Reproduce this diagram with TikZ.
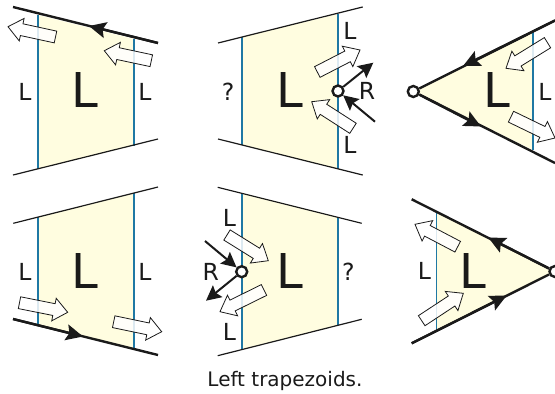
\documentclass[tikz,border=0pt]{standalone}
\usepackage{fontspec}
\setmainfont{DejaVu Sans}
\usetikzlibrary{arrows.meta,calc}
\definecolor{paneyellow}{HTML}{FFFDE0}
\definecolor{edgeblue}{HTML}{1F78A4}
\definecolor{inkk}{HTML}{1A1A1A}
\tikzset{
  pane/.style={fill=paneyellow,draw=none},
  edgeline/.style={draw=edgeblue,line width=1.25pt},
  thinline/.style={draw=inkk,line width=1.2pt},
  thickline/.style={draw=inkk,line width=2.4pt},
  midhead/.style={-{Stealth[length=17pt,width=16pt,inset=3pt]}},
  bighead2/.style={draw=inkk,line width=2pt,-{Stealth[length=15pt,width=15pt,inset=2.5pt]}},
  vertexdot/.style={circle,draw=inkk,fill=white,line width=2.4pt,minimum size=11pt,inner sep=0pt},
  smalltxt/.style={font=\fontsize{23.5}{24}\selectfont,text=inkk,inner sep=0pt},
  bigtxt/.style={font=\fontsize{48}{48}\selectfont,text=inkk,inner sep=0pt},
  captiontxt/.style={font=\fontsize{20}{22}\selectfont,text=inkk,inner sep=0pt},
  blockshape/.style={draw=inkk,line width=0.8pt,fill=white,fill opacity=0.85,line join=miter}
}
\newcommand\blk[3]{%
  \coordinate (#1a) at (#2);
  \coordinate (#1b) at (#3);
  \coordinate (#1h) at ($(#1b)!14pt!(#1a)$);
  \draw[blockshape] ($(#1a)!6pt!90:(#1b)$) -- ($(#1h)!6pt!-90:(#1a)$) -- ($(#1h)!11.5pt!-90:(#1a)$) -- (#1b)
    -- ($(#1h)!11.5pt!90:(#1a)$) -- ($(#1h)!6pt!90:(#1a)$) -- ($(#1a)!6pt!-90:(#1b)$) -- cycle;
}
\begin{document}
\begin{tikzpicture}[x=1pt,y=-1pt]
\useasboundingbox (0,0) rectangle (555,394);
% panel 1
\fill[pane] (38,15) -- (134,39) -- (134,145.5) -- (38,169) -- cycle;
\coordinate (p1a) at (13,7); \coordinate (p1m) at (89,26); \coordinate (p1b) at (158,43);
\coordinate (p1c) at (13,175); \coordinate (p1d) at (158,139);
\draw[edgeline] (38,15) -- (38,169);
\draw[edgeline] (134,39) -- (134,145.5);
\draw[thickline] (p1a) -- (p1b);
\draw[thickline,midhead] (p1b) -- (p1m);
\draw[thinline] (p1c) -- (p1d);
\node[smalltxt] (t1a) at (25,92) {L};
\node[smalltxt] (t1b) at (145,92) {L};
\node[bigtxt] (t1c) at (85,90.5) {L};
\blk{k1}{55.5,37}{8,26.7}
\blk{k2}{151.3,60.7}{104.3,50.7}
% panel 2
\fill[pane] (242,37) -- (338,14) -- (338,169) -- (242,145) -- cycle;
\coordinate (p2a) at (218,43); \coordinate (p2b) at (362.7,7);
\coordinate (p2c) at (218,139); \coordinate (p2d) at (362.7,175);
\draw[edgeline] (242,37) -- (242,145);
\draw[edgeline] (338,14) -- (338,169);
\draw[thinline] (p2a) -- (p2b);
\draw[thinline] (p2c) -- (p2d);
\node[smalltxt] (t2a) at (350,31) {L};
\node[smalltxt] (t2b) at (350,145) {L};
\node[smalltxt] (t2c) at (367,91) {R};
\node[smalltxt] (t2d) at (228,92) {?};
\node[bigtxt] (t2e) at (290,90.5) {L};
\blk{k3}{317.3,72}{360,50}
\blk{k4}{353,128.3}{311.7,101.7}
\node[vertexdot] (v2) at (338,91) {};
\coordinate (o2) at (373.3,62.7); \coordinate (i2) at (375,121.7);
\draw[bighead2] (v2) -- (o2);
\draw[bighead2] (i2) -- (v2);
% panel 3
\fill[pane] (413.3,91.5) -- (533,32) -- (533,150) -- cycle;
\node[vertexdot] (v3) at (413.3,91.5) {};
\coordinate (p3a) at (555,20.5); \coordinate (p3m) at (463,66); \coordinate (p3b) at (555,163); \coordinate (p3n) at (481,126.5);
\draw[edgeline] (533,32) -- (533,150);
\draw[thickline] (v3) -- (p3a);
\draw[thickline,midhead] (p3a) -- (p3m);
\draw[thickline] (v3) -- (p3b);
\draw[thickline,midhead] (v3) -- (p3n);
\node[smalltxt] (t3a) at (545,92) {L};
\node[bigtxt] (t3b) at (497,90.5) {L};
\blk{k5}{547.5,42.7}{506,68.3}
\blk{k6}{511,116.7}{555,138}
% panel 4
\fill[pane] (38,217) -- (134,193) -- (134,349) -- (38,325) -- cycle;
\coordinate (p4a) at (13.3,223.3); \coordinate (p4b) at (158,187);
\coordinate (p4c) at (13,319); \coordinate (p4m) at (83,336.5); \coordinate (p4d) at (158,355);
\draw[edgeline] (38,217) -- (38,325);
\draw[edgeline] (134,193) -- (134,349);
\draw[thinline] (p4a) -- (p4b);
\draw[thickline] (p4c) -- (p4d);
\draw[thickline,midhead] (p4c) -- (p4m);
\node[smalltxt] (t4a) at (25,272) {L};
\node[smalltxt] (t4b) at (145,272) {L};
\node[bigtxt] (t4c) at (85,270.5) {L};
\blk{k7}{19.5,302.7}{67.7,312.3}
\blk{k8}{113.7,321.7}{161.7,331.7}
% panel 5
\fill[pane] (242,193) -- (338,217) -- (338,325) -- (242,349) -- cycle;
\coordinate (p5a) at (217.7,187.3); \coordinate (p5b) at (361.7,223.3);
\coordinate (p5c) at (217.7,355.7); \coordinate (p5d) at (361.7,319.3);
\draw[edgeline] (242,193) -- (242,349);
\draw[edgeline] (338,217) -- (338,325);
\draw[thinline] (p5a) -- (p5b);
\draw[thinline] (p5c) -- (p5d);
\node[smalltxt] (t5a) at (229.5,218) {L};
\node[smalltxt] (t5b) at (229.5,332) {L};
\node[smalltxt] (t5c) at (210.7,272) {R};
\node[smalltxt] (t5d) at (348.3,272) {?};
\node[bigtxt] (t5e) at (290,270.5) {L};
\blk{k9}{227,235}{268.3,260.7}
\blk{k10}{264,290}{220,311.7}
\node[vertexdot] (v5) at (241.7,271.7) {};
\coordinate (i5) at (205,241); \coordinate (o5) at (206,300.7);
\draw[bighead2] (i5) -- (v5);
\draw[bighead2] (v5) -- (o5);
% panel 6
\fill[pane] (436.7,211.7) -- (555,271.5) -- (436.7,330.5) -- cycle;
\node[vertexdot] (v6) at (555,271.5) {};
\coordinate (p6a) at (411.7,199.3); \coordinate (p6m) at (488.3,237.5);
\coordinate (p6b) at (411.7,343.3); \coordinate (p6n) at (506.7,295.5);
\draw[edgeline] (436.7,211.7) -- (436.7,330.5);
\draw[thickline] (p6a) -- (v6);
\draw[thickline,midhead] (v6) -- (p6m);
\draw[thickline] (p6b) -- (v6);
\draw[thickline,midhead] (p6b) -- (p6n);
\node[smalltxt] (t6a) at (424.5,271) {L};
\node[bigtxt] (t6b) at (473,270.5) {L};
\blk{k11}{457.7,246.7}{415,224.3}
\blk{k12}{421.7,320.7}{463.3,293.3}
% caption
\node[captiontxt] (cap) at (285,381) {Left trapezoids.};
\end{tikzpicture}
\end{document}
